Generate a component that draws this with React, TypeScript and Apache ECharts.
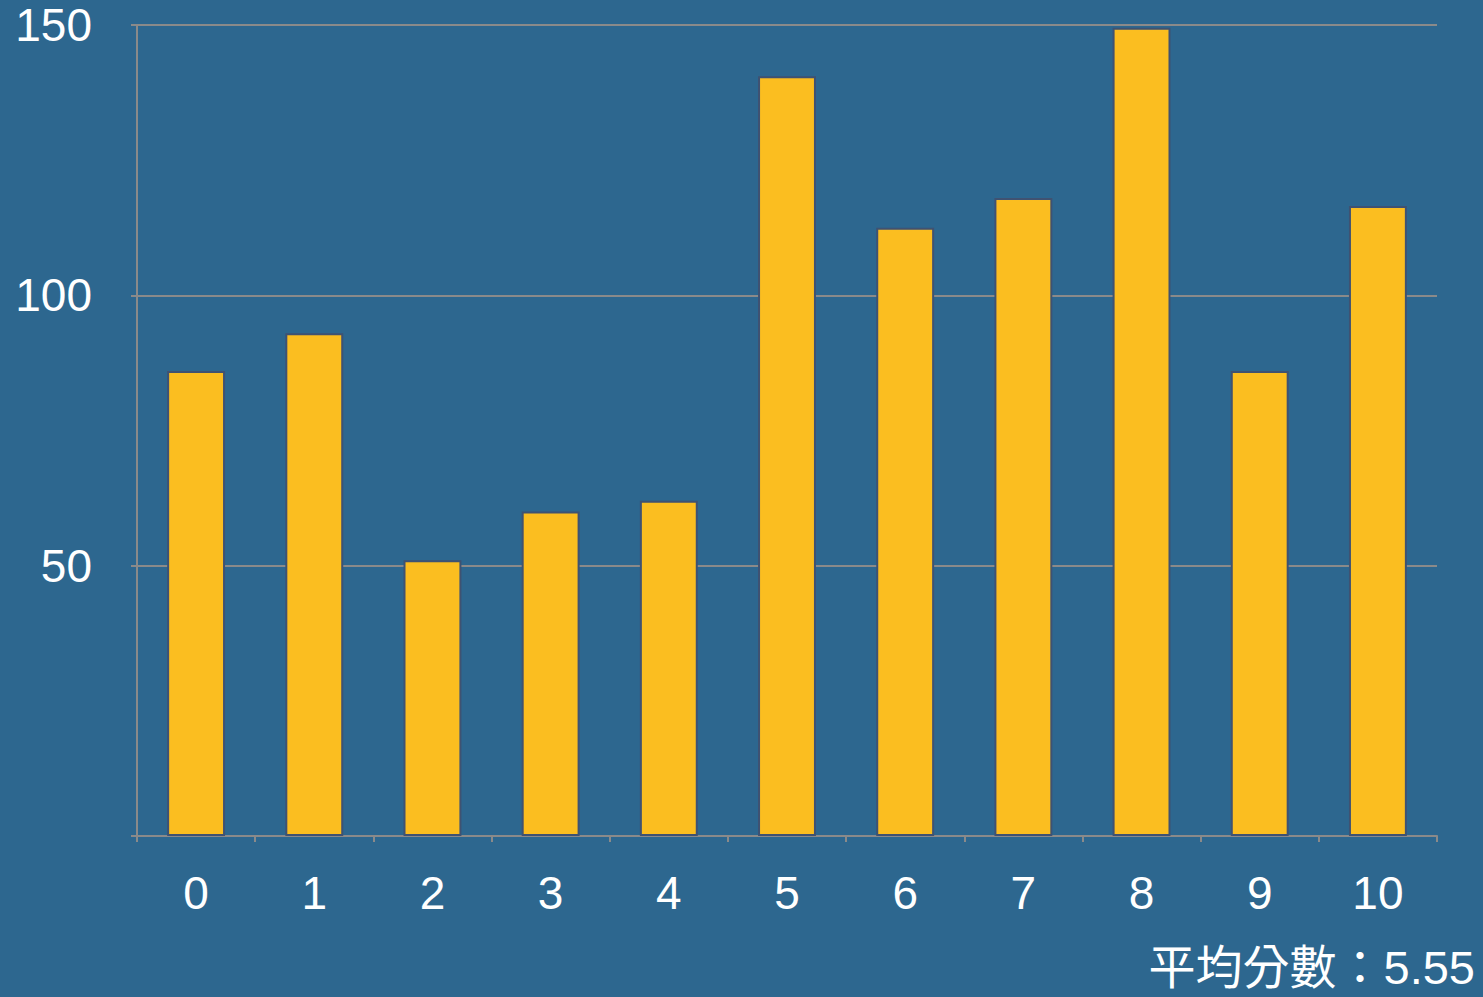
import React, { useEffect, useRef } from "react";
import * as echarts from "echarts";

const categories = ["0", "1", "2", "3", "4", "5", "6", "7", "8", "9", "10"];
const counts = [86, 93, 51, 60, 62, 140.5, 112.5, 118, 149.5, 86, 116.5];
const yTicks = { min: 0, max: 150, interval: 50 };
const footnote = "平均分數：5.55";

export default function App() {
  const ref = useRef<HTMLDivElement>(null);
  useEffect(() => {
    if (!ref.current) return;
    const chart = echarts.init(ref.current, null, { renderer: "svg" });
    const latin = "'Liberation Sans', Arial, Helvetica, sans-serif";
    chart.setOption({
      animation: false,
      backgroundColor: "#2d678f",
      grid: { left: 137, right: 46, top: 25, bottom: 161, containLabel: false },
      xAxis: {
        type: "category",
        data: categories,
        boundaryGap: true,
        axisLine: { show: true, lineStyle: { color: "#8a8a8a", width: 2 } },
        axisTick: { show: true, alignWithLabel: false, length: 6, lineStyle: { color: "#8a8a8a", width: 2 } },
        axisLabel: { color: "#ffffff", fontSize: 46, fontFamily: latin, margin: 34 },
        splitLine: { show: false },
      },
      yAxis: {
        type: "value",
        min: yTicks.min,
        max: yTicks.max,
        interval: yTicks.interval,
        axisLine: { show: true, lineStyle: { color: "#8a8a8a", width: 2 } },
        axisTick: { show: true, length: 6, lineStyle: { color: "#8a8a8a", width: 2 } },
        axisLabel: {
          color: "#ffffff",
          fontSize: 46,
          fontFamily: latin,
          margin: 45,
          formatter: (v: number) => (v === 0 ? "" : String(v)),
        },
        splitLine: { show: true, lineStyle: { color: "#8a8a8a", width: 2 } },
      },
      series: [
        {
          type: "bar",
          data: counts,
          barWidth: "49%",
          itemStyle: { color: "#fbbe20", borderColor: "#3f5272", borderWidth: 2 },
        },
      ],
      graphic: [
        {
          type: "text",
          right: 8,
          top: 942,
          style: {
            text: footnote,
            fill: "#ffffff",
            fontSize: 47,
            lineHeight: 50,
            fontFamily: "'Liberation Sans', 'Noto Sans CJK TC', sans-serif",
          },
        },
      ],
    });
    return () => chart.dispose();
  }, []);
  return (
    <div
      ref={ref}
      style={{ position: "absolute", left: 0, top: 0, width: 1483, height: 997 }}
    />
  );
}
